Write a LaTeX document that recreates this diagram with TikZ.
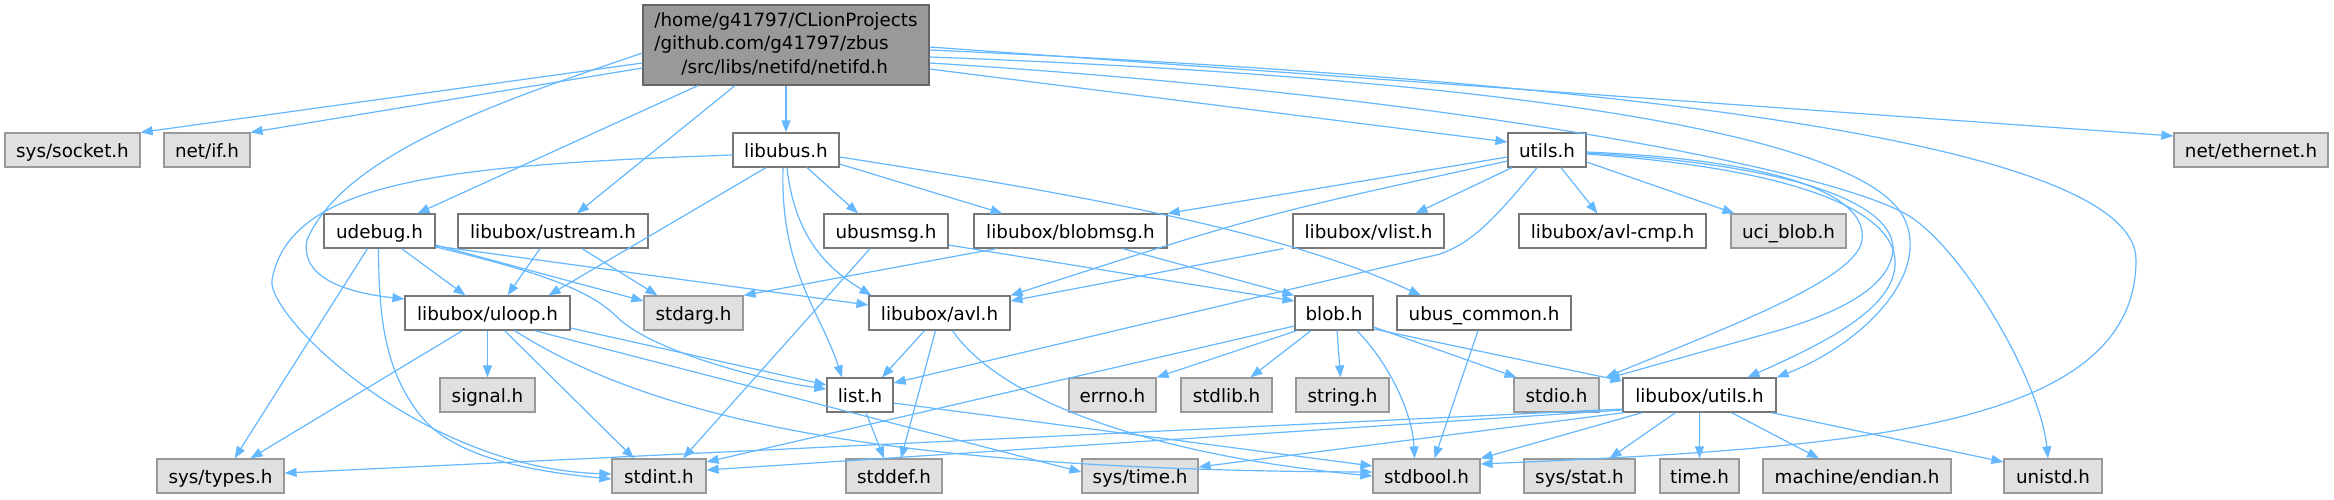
\documentclass[tikz,border=0pt]{standalone}
\usepackage{fontspec}
\setmainfont{DejaVu Sans}
\usetikzlibrary{arrows.meta}
\definecolor{edgec}{HTML}{63B8FF}
\definecolor{extfill}{HTML}{E0E0E0}
\definecolor{extdraw}{HTML}{999999}
\definecolor{nodedraw}{HTML}{777777}
\definecolor{rootfill}{HTML}{999999}
\definecolor{rootdraw}{HTML}{666666}
\begin{document}
\begin{tikzpicture}[x=1pt,y=-1pt,
  base/.style={line width=1.2pt, minimum height=34pt, inner sep=0pt,
    text height=16pt, text depth=2pt, font=\fontsize{18.3}{22}\selectfont},
  wnode/.style={base, draw=nodedraw, fill=white},
  xnode/.style={base, draw=extdraw, fill=extfill},
  rootnode/.style={line width=1.2pt, draw=rootdraw, fill=rootfill, inner sep=0pt,
    minimum width=286pt, minimum height=80pt, font=\fontsize{18.3}{23.5}\selectfont},
  dep/.style={draw=edgec, line width=1.2pt, -{Triangle[length=12pt,width=9pt]}}]
\fill[white] (0,0) rectangle (2334,499);
\useasboundingbox (0,0) rectangle (2334,499);

% row 0
\node[rootnode] (root) at (786,45) {\begin{tabular}{@{}l@{}}/home/g41797/CLionProjects\\/github.com/g41797/zbus\\\hspace*{27pt}/src/libs/netifd/netifd.h\end{tabular}};
% row 1
\node[xnode, minimum width=135pt] (syssocket) at (72.5,150) {sys/socket.h};
\node[xnode, minimum width=86pt] (netif) at (207,150) {net/if.h};
\node[wnode, minimum width=106pt] (libubus) at (786,150) {libubus.h};
\node[wnode, minimum width=78pt] (utils) at (1547,150) {utils.h};
\node[xnode, minimum width=154pt] (netethernet) at (2251,150) {net/ethernet.h};
% row 2
\node[wnode, minimum width=111pt] (udebug) at (379.5,231) {udebug.h};
\node[wnode, minimum width=190pt] (ustream) at (553,231) {libubox/ustream.h};
\node[wnode, minimum width=124pt] (ubusmsg) at (886,231) {ubusmsg.h};
\node[wnode, minimum width=193pt] (blobmsg) at (1070.5,231) {libubox/blobmsg.h};
\node[wnode, minimum width=151pt] (vlist) at (1368.5,231) {libubox/vlist.h};
\node[wnode, minimum width=187pt] (avlcmp) at (1612.5,231) {libubox/avl-cmp.h};
\node[xnode, minimum width=115pt] (ucib) at (1788.5,231) {uci\_blob.h};
% row 3
\node[wnode, minimum width=165pt] (uloop) at (487.5,313) {libubox/uloop.h};
\node[xnode, minimum width=99pt] (stdarg) at (693.5,313) {stdarg.h};
\node[wnode, minimum width=141pt] (avl) at (939.5,313) {libubox/avl.h};
\node[wnode, minimum width=78pt] (blob) at (1334,313) {blob.h};
\node[wnode, minimum width=174pt] (ubuscommon) at (1484,313) {ubus\_common.h};
% row 4
\node[xnode, minimum width=95pt] (signal) at (487.5,395) {signal.h};
\node[wnode, minimum width=66pt] (list) at (860,395) {list.h};
\node[xnode, minimum width=87pt] (errno) at (1112.5,395) {errno.h};
\node[xnode, minimum width=91pt] (stdlib) at (1226.5,395) {stdlib.h};
\node[xnode, minimum width=93pt] (string) at (1342.5,395) {string.h};
\node[xnode, minimum width=85pt] (stdio) at (1556.5,395) {stdio.h};
\node[wnode, minimum width=153pt] (lutils) at (1699.5,395) {libubox/utils.h};
% row 5
\node[xnode, minimum width=127pt] (systypes) at (220.5,476) {sys/types.h};
\node[xnode, minimum width=94pt] (stdint) at (659,476) {stdint.h};
\node[xnode, minimum width=96pt] (stddef) at (894,476) {stddef.h};
\node[xnode, minimum width=116pt] (systime) at (1140,476) {sys/time.h};
\node[xnode, minimum width=107pt] (stdbool) at (1426.5,476) {stdbool.h};
\node[xnode, minimum width=111pt] (sysstat) at (1579.5,476) {sys/stat.h};
\node[xnode, minimum width=79pt] (time) at (1699.5,476) {time.h};
\node[xnode, minimum width=188pt] (endian) at (1857,476) {machine/endian.h};
\node[xnode, minimum width=98pt] (unistd) at (2053,476) {unistd.h};

% root edges
\draw[dep] ([yshift=-18pt]root.west) -- (syssocket.north east);
\draw[dep] ([yshift=-23pt]root.west) -- (netif.north east);
\draw[dep] ([yshift=-8pt]root.west) .. controls (520,95) and (345,150) .. (307,240) .. controls (300,275) and (340,292) .. ([yshift=14pt]uloop.west);
\draw[dep] ([xshift=-88pt]root.south) -- ([xshift=38pt]udebug.north);
\draw[dep] ([xshift=-51pt]root.south) -- ([xshift=24pt]ustream.north);
\draw[dep] (root) -- (libubus);
\draw[dep] ([yshift=-24pt]root.east) -- ([yshift=8pt]utils.west);
\draw[dep] ([yshift=-2pt]root.east) -- ([yshift=14pt]netethernet.west);
\draw[dep] ([yshift=-5pt]root.east) .. controls (1600,80) and (2136,140) .. (2136,260) .. controls (2136,430) and (1850,448) .. ([yshift=12pt]stdbool.east);
\draw[dep] ([yshift=-12pt]root.east) .. controls (1550,80) and (1870,140) .. (1905,220) .. controls (1930,277) and (1860,345) .. (lutils.north east);
\draw[dep] ([yshift=-18pt]root.east) .. controls (1450,95) and (1820,168) .. (1904,213) .. controls (1960,243) and (2040,380) .. ([xshift=-5pt]unistd.north);

% utils.h edges
\draw[dep] ([yshift=-2pt]utils.east) .. controls (1780,160) and (1868,195) .. (1862,240) .. controls (1857,280) and (1720,330) .. ([xshift=6pt]stdio.north east);
\draw[dep] ([yshift=-3pt]utils.east) .. controls (1800,165) and (1895,205) .. (1893,250) .. controls (1890,290) and (1830,315) .. (1780,330) -- ([xshift=8pt,yshift=-1pt]stdio.north east);
\draw[dep] ([yshift=-4pt]utils.east) .. controls (1810,170) and (1898,215) .. (1895,265) .. controls (1893,310) and (1820,345) .. ([xshift=48pt]lutils.north);
\draw[dep] ([yshift=-7pt]utils.west) -- (blobmsg.north east);
\draw[dep] ([yshift=-11pt]utils.west) .. controls (1260,215) .. (avl.north east);
\draw[dep] ([xshift=-10pt]utils.south) .. controls (1490,225) and (1470,243) .. (1440,254) -- ([yshift=12pt]list.east);
\draw[dep] ([xshift=-35pt]utils.south) -- ([xshift=47pt]vlist.north);
\draw[dep] ([xshift=14pt]utils.south) -- ([xshift=-15pt]avlcmp.north);
\draw[dep] ([yshift=-12pt]utils.east) -- ([xshift=-54pt]ucib.north);

% libubus.h edges
\draw[dep] ([xshift=21pt]libubus.south) -- ([xshift=-28pt]ubusmsg.north);
\draw[dep] ([yshift=-14pt]libubus.east) -- ([xshift=-68pt]blobmsg.north);
\draw[dep] ([yshift=-7pt]libubus.east) .. controls (1150,205) and (1300,240) .. ([xshift=-63pt]ubuscommon.north);
\draw[dep] ([xshift=1pt]libubus.south) .. controls (795,240) and (830,270) .. ([xshift=-68pt]avl.north);
\draw[dep] ([xshift=-3pt]libubus.south) .. controls (780,270) and (820,310) .. ([xshift=-18pt]list.north);
\draw[dep] ([xshift=-20pt]libubus.south) -- ([xshift=61pt]uloop.north);
\draw[dep] ([yshift=-5pt]libubus.west) .. controls (450,165) and (290,180) .. (272,280) .. controls (266,315) and (420,468) .. ([yshift=2pt]stdint.west);

% udebug.h edges
\draw[dep] ([xshift=-12pt]udebug.south) -- ([xshift=14pt]systypes.north);
\draw[dep] ([xshift=-1pt]udebug.south) .. controls (379,320) and (385,370) .. (420,415) .. controls (455,460) and (540,472) .. ([yshift=-3pt]stdint.west);
\draw[dep] ([xshift=22pt]udebug.south) -- ([xshift=-22pt]uloop.north);
\draw[dep] ([yshift=-14pt]udebug.east) -- ([yshift=12pt]stdarg.west);
\draw[dep] ([yshift=-15pt]udebug.east) -- ([yshift=8pt]avl.west);
\draw[dep] ([yshift=-16pt]udebug.east) .. controls (540,272) and (590,290) .. (617,317) .. controls (650,350) and (760,380) .. ([yshift=6pt]list.west);

% ustream
\draw[dep] ([xshift=-13pt]ustream.south) -- ([xshift=20pt]uloop.north);
\draw[dep] ([xshift=29pt]ustream.south) -- ([xshift=-36pt]stdarg.north);

% ubusmsg
\draw[dep] ([xshift=-16pt]ubusmsg.south) -- ([xshift=24pt]stdint.north);
\draw[dep] ([yshift=-14pt]ubusmsg.east) -- ([yshift=12pt]blob.west);

% blobmsg
\draw[dep] ([xshift=-74pt]blobmsg.south) -- (stdarg.north east);
\draw[dep] ([xshift=52pt]blobmsg.south) -- (blob.north west);

% vlist
\draw[dep] ([xshift=-85pt]vlist.south) -- ([yshift=12pt]avl.east);

% avl
\draw[dep] ([xshift=-15pt]avl.south) -- ([xshift=22pt]list.north);
\draw[dep] ([xshift=-4pt]avl.south) -- ([xshift=7pt]stddef.north);
\draw[dep] ([xshift=13pt]avl.south) .. controls (1000,400) and (1150,455) .. (stdbool.west);

% list
\draw[dep] ([xshift=6pt]list.south) -- ([xshift=-10pt]stddef.north);
\draw[dep] ([yshift=-8pt]list.east) -- ([yshift=10pt]stdbool.west);

% blob
\draw[dep] ([yshift=-13pt]blob.west) -- ([yshift=14pt]stdint.east);
\draw[dep] ([xshift=-37pt]blob.south) -- (errno.north east);
\draw[dep] ([xshift=-23pt]blob.south) -- ([xshift=24pt]stdlib.north);
\draw[dep] ([xshift=3pt]blob.south) -- ([xshift=-2pt]string.north);
\draw[dep] ([xshift=23pt]blob.south) .. controls (1395,370) and (1413,420) .. ([xshift=-12pt]stdbool.north);
\draw[dep] ([yshift=-14pt]blob.east) -- ([xshift=-40pt]stdio.north);
\draw[dep] ([yshift=-16pt]blob.east) -- ([yshift=14pt]lutils.west);

% ubus_common
\draw[dep] ([xshift=-6pt]ubuscommon.south) -- ([xshift=8pt]stdbool.north);

% uloop
\draw[dep] ([xshift=-25pt]uloop.south) -- ([xshift=30pt]systypes.north);
\draw[dep] (uloop) -- (signal);
\draw[dep] ([xshift=17pt]uloop.south) -- ([xshift=-25pt]stdint.north);
\draw[dep] ([yshift=-15pt]uloop.east) -- ([yshift=10pt]list.west);
\draw[dep] ([xshift=47pt]uloop.south) -- ([yshift=4pt]systime.west);
\draw[dep] ([xshift=27pt]uloop.south) .. controls (640,410) and (850,470) .. ([yshift=4pt]stdbool.west);

% libubox/utils.h
\draw[dep] ([yshift=-14pt]lutils.west) -- ([yshift=3pt]systypes.east);
\draw[dep] ([yshift=-15pt]lutils.west) -- ([yshift=6pt]stdint.east);
\draw[dep] ([xshift=2pt]lutils.south west) -- ([yshift=9pt]systime.east);
\draw[dep] ([xshift=20pt]lutils.south west) -- (stdbool.north east);
\draw[dep] ([xshift=-24pt]lutils.south) -- ([xshift=30pt]sysstat.north);
\draw[dep] (lutils) -- (time);
\draw[dep] ([xshift=32pt]lutils.south) -- ([xshift=-38pt]endian.north);
\draw[dep] ([xshift=72pt]lutils.south) -- ([yshift=14pt]unistd.west);
\end{tikzpicture}
\end{document}
